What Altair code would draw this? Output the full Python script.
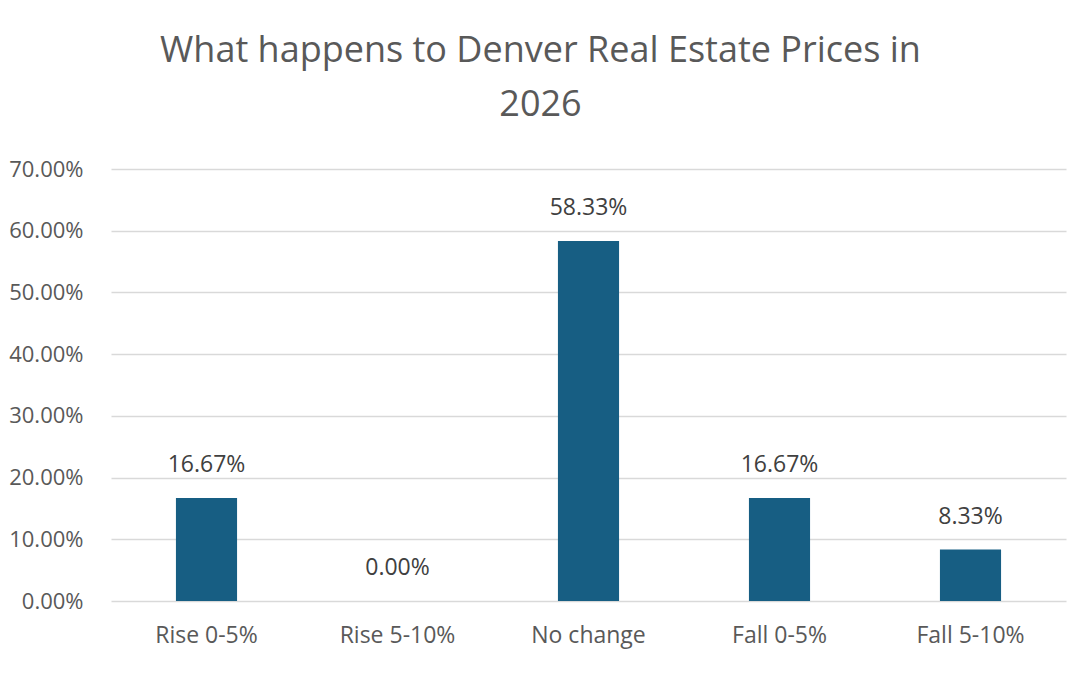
import altair as alt
import pandas as pd

categories = ["Rise 0-5%", "Rise 5-10%", "No change", "Fall 0-5%", "Fall 5-10%"]
values = [0.1667, 0.0, 0.5833, 0.1667, 0.0833]
labels = ["16.67%", "0.00%", "58.33%", "16.67%", "8.33%"]

df = pd.DataFrame({"cat": categories, "val": values, "lab": labels})

FONT = "Open Sans"

x = alt.X("cat:N", sort=categories, title=None,
          scale=alt.Scale(paddingInner=0.68, paddingOuter=0.34),
          axis=alt.Axis(labelAngle=0, labelFontSize=23, labelColor="#595959",
                        labelFont=FONT, ticks=False, domain=False, labelPadding=23))
y = alt.Y("val:Q", title=None,
          scale=alt.Scale(domain=[0, 0.7], nice=False),
          axis=alt.Axis(format=".2%", values=[0, 0.1, 0.2, 0.3, 0.4, 0.5, 0.6, 0.7],
                        labelFontSize=22, labelColor="#595959", labelFont=FONT,
                        ticks=False, domain=False, labelPadding=28,
                        gridColor="#d9d9d9", gridWidth=1.5))

bars = alt.Chart(df).mark_bar(color="#175E83").encode(x=x, y=y)
text = alt.Chart(df).mark_text(dy=-21, baseline="bottom", fontSize=23, font=FONT,
                               color="#404040").encode(
    x=alt.X("cat:N", sort=categories), y="val:Q", text="lab:N")

chart = alt.layer(bars, text).properties(
    width=955, height=432,
    background="white",
    title=alt.TitleParams(
        ["What happens to Denver Real Estate Prices in", "2026"],
        fontSize=36, font=FONT, fontWeight="normal", color="#595959",
        lineHeight=54, anchor="middle", dx=-48, offset=34),
    autosize=alt.AutoSizeParams(type="none"),
    padding={"left": 103, "top": 161, "right": 6, "bottom": 66},
).configure_view(strokeWidth=0, stroke=None)

chart.save("out.html", embed_options={"renderer": "svg", "actions": False})
